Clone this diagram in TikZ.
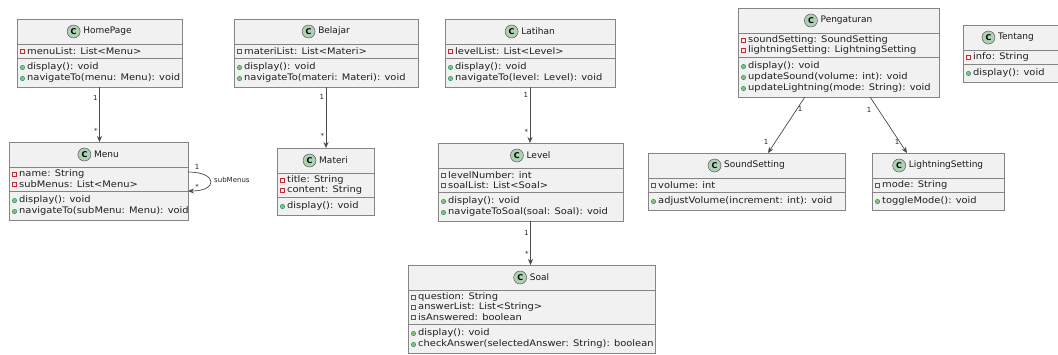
\documentclass[tikz,border=0pt]{standalone}
\usepackage{fontspec}
\setmainfont{DejaVu Sans}
\newfontfamily\rowfont[FakeStretch=1.1]{DejaVu Sans}
\usetikzlibrary{calc,arrows.meta}

\definecolor{boxfill}{HTML}{F1F1F1}
\definecolor{boxline}{HTML}{858585}
\definecolor{badge}{HTML}{ADD1B2}
\definecolor{privred}{HTML}{C82930}
\definecolor{pubgreen}{HTML}{84BE84}
\definecolor{pubedge}{HTML}{038048}
\definecolor{edgecol}{HTML}{4A4A4A}

\tikzset{
  classbox/.style={rectangle, draw=boxline, fill=boxfill, line width=0.7pt, inner sep=0pt, outer sep=0pt},
  sepline/.style={draw=boxline, line width=0.7pt},
  classtitle/.style={font=\fontsize{9}{10}\selectfont, text=black!90, inner sep=0pt},
  badgecirc/.style={circle, draw=black!65, fill=badge, line width=0.5pt, minimum size=13pt, inner sep=0pt, font=\fontsize{8}{8}\selectfont\bfseries},
  member/.style={anchor=west, font=\rowfont\fontsize{9}{10}\selectfont, text=black!88, inner sep=0pt},
  privmark/.style={rectangle, draw=privred, line width=0.6pt, minimum size=4.5pt, inner sep=0pt},
  pubmark/.style={circle, fill=pubgreen, draw=pubedge, line width=0.3pt, minimum size=4.5pt, inner sep=0pt},
  assoc/.style={draw=edgecol, line width=0.7pt, -{Stealth[length=6pt,width=5pt]}},
  mult/.style={font=\fontsize{7}{8}\selectfont, text=black!85, inner sep=0pt},
}

% horizontal offset of the class name inside its header
\newcommand\titleshift{0}

% #1 id, #2 left, #3 right, #4 top, #5 class name,
% #6 number of fields, #7 fields, #8 number of operations, #9 operations
\newcommand\umlclass[9]{%
  \pgfmathsetmacro\cw{#3-#2}%
  \pgfmathsetmacro\ya{#4+25}%
  \pgfmathsetmacro\yb{\ya+4+10*#6}%
  \pgfmathsetmacro\yc{\yb+7+11*#8}%
  \pgfmathsetmacro\ch{\yc-#4}%
  \node[classbox, anchor=north west, minimum width=\cw pt, minimum height=\ch pt] (#1) at (#2,#4) {};
  \draw[sepline] (#2,\ya) -- (#3,\ya);
  \draw[sepline] (#2,\yb) -- (#3,\yb);
  \pgfmathsetmacro\xm{(#2+#3)/2+8+\titleshift}%
  \node[classtitle] (#1-name) at (\xm,#4+12.5) {#5};
  \node[badgecirc] (#1-badge) at ([xshift=-9.5pt]#1-name.west) {C};
  \foreach \t [count=\i] in {#7} {
    \node[privmark] (#1-p\i) at (#2+5.5, \ya+7.5+10*\i-10) {};
    \node[member] (#1-a\i) at (#2+10, \ya+7.5+10*\i-10) {\t};
  }
  \foreach \t [count=\i] in {#9} {
    \node[pubmark] (#1-q\i) at (#2+5.5, \yb+9.5+11*\i-11) {};
    \node[member] (#1-m\i) at (#2+10, \yb+9.5+11*\i-11) {\t};
  }
}

\begin{document}
\begin{tikzpicture}[x=1pt, y=-1pt]
  \fill[white] (0,0) rectangle (1058,354);
  \useasboundingbox (0,0) rectangle (1058,354);

  % menu pages
  \umlclass{homepage}{17}{182}{19}{HomePage}{1}{{menuList: List<Menu>}}{2}{{display(): void},{navigateTo(menu: Menu): void}}
  \umlclass{menu}{9}{188}{142}{Menu}{2}{{name: String},{subMenus: List<Menu>}}{2}{{display(): void},{navigateTo(subMenu: Menu): void}}

  % learning material
  \umlclass{belajar}{234}{418}{19}{Belajar}{1}{{materiList: List<Materi>}}{2}{{display(): void},{navigateTo(materi: Materi): void}}
  \umlclass{materi}{277}{374}{148}{Materi}{2}{{title: String},{content: String}}{1}{{display(): void}}

  % exercises
  \umlclass{latihan}{445}{615}{19}{Latihan}{1}{{levelList: List<Level>}}{2}{{display(): void},{navigateTo(level: Level): void}}
  \umlclass{level}{438}{623}{143}{Level}{2}{{levelNumber: int},{soalList: List<Soal>}}{2}{{display(): void},{navigateToSoal(soal: Soal): void}}
  \umlclass{soal}{408}{655}{265}{Soal}{3}{{question: String},{answerList: List<String>},{isAnswered: boolean}}{2}{{display(): void},{checkAnswer(selectedAnswer: String): boolean}}

  % settings
  \umlclass{pengaturan}{738}{939}{8}{Pengaturan}{2}{{soundSetting: SoundSetting},{lightningSetting: LightningSetting}}{3}{{display(): void},{updateSound(volume: int): void},{updateLightning(mode: String): void}}
  \umlclass{soundsetting}{648}{845}{153}{SoundSetting}{1}{{volume: int}}{1}{{adjustVolume(increment: int): void}}
  \umlclass{lightningsetting}{872}{1004}{153}{LightningSetting}{1}{{mode: String}}{1}{{toggleMode(): void}}

  % about page
  \renewcommand\titleshift{-6.5}
  \umlclass{tentang}{963}{1066}{25}{Tentang}{1}{{info: String}}{1}{{display(): void}}
  \renewcommand\titleshift{0}

  % associations
  \draw[assoc] (homepage.south) -- (homepage.south |- menu.north)
    node[mult, left, pos=0.2, xshift=-1.5pt] (hm1) {1}
    node[mult, left, pos=0.8, xshift=-1.5pt] (hm2) {*};
  \draw[assoc] ([yshift=9pt]menu.east) .. controls +(30,0) and +(30,0) .. ([yshift=-10pt]menu.east);
  \node[mult] (mm1) at (197,167) {1};
  \node[mult] (mm2) at (197,187) {*};
  \node[mult, anchor=west] (mm3) at (214,180) {subMenus};

  \draw[assoc] (belajar.south) -- (belajar.south |- materi.north)
    node[mult, left, pos=0.17, xshift=-1.5pt] (bm1) {1}
    node[mult, left, pos=0.8, xshift=-1.5pt] (bm2) {*};

  \draw[assoc] (latihan.south) -- (latihan.south |- level.north)
    node[mult, left, pos=0.15, xshift=-1.5pt] (ll1) {1}
    node[mult, left, pos=0.8, xshift=-1.5pt] (ll2) {*};

  \draw[assoc] (level.south) -- (level.south |- soal.north)
    node[mult, left, pos=0.28, xshift=-1.5pt] (ls1) {1}
    node[mult, left, pos=0.74, xshift=-1.5pt] (ls2) {*};

  \draw[assoc] ($(pengaturan.south west)!0.333!(pengaturan.south east)$) -- ($(soundsetting.north west)!0.609!(soundsetting.north east)$);
  \node[mult] (ps1) at (800,109) {1};
  \node[mult] (ps2) at (766,142) {1};
  \draw[assoc] ($(pengaturan.south west)!0.657!(pengaturan.south east)$) -- ($(lightningsetting.north west)!0.265!(lightningsetting.north east)$);
  \node[mult] (pl1) at (869,110) {1};
  \node[mult] (pl2) at (897,142) {1};
\end{tikzpicture}
\end{document}
